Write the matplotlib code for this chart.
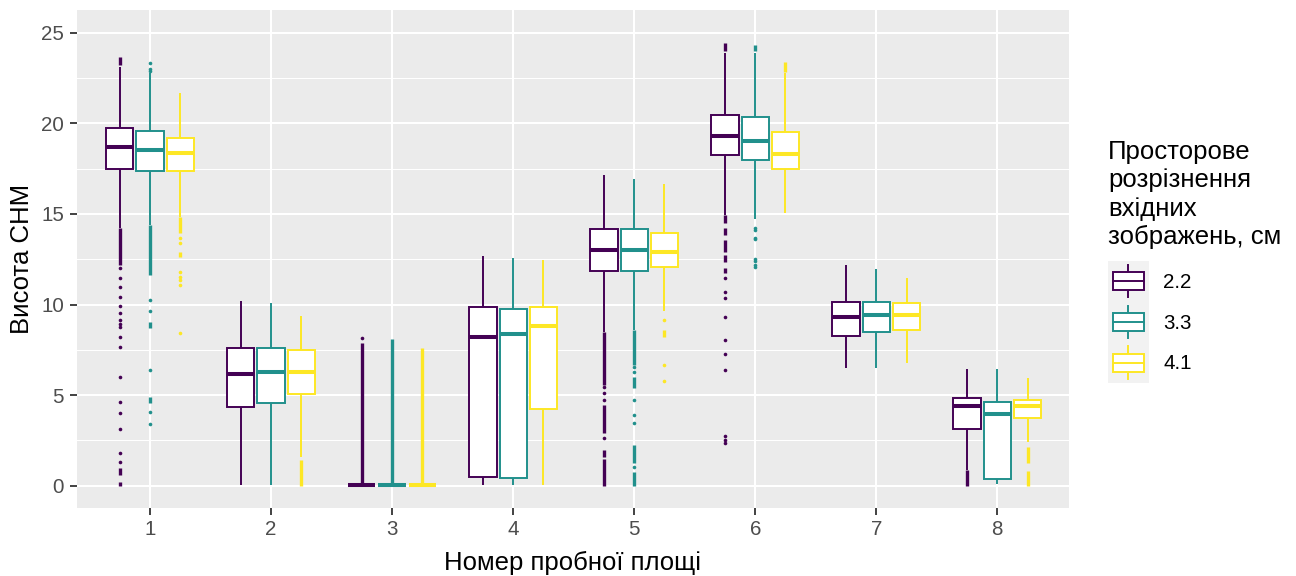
import matplotlib
matplotlib.use('Agg')
import matplotlib.pyplot as plt
import matplotlib.patches as mpatches
from matplotlib.lines import Line2D
from matplotlib.legend_handler import HandlerBase

plt.rcParams['font.family'] = ['Liberation Sans', 'DejaVu Sans']

# ---------------- data ----------------
plots = [1, 2, 3, 4, 5, 6, 7, 8]
resolutions = ['2.2', '3.3', '4.1']
colors = ['#440154', '#21908C', '#FDE725']

# resolution 2.2 cm
q1_22 = [17.48, 4.33, 0.02, 0.50, 11.87, 18.25, 8.28, 3.15]
med_22 = [18.71, 6.16, 0.02, 8.22, 13.00, 19.32, 9.33, 4.42]
q3_22 = [19.76, 7.58, 0.02, 9.88, 14.15, 20.47, 10.15, 4.84]
lo_22 = [14.20, 0.05, 0.02, 0.04, 8.50, 14.94, 6.51, 0.87]
hi_22 = [23.12, 10.19, 0.02, 12.69, 17.15, 23.87, 12.18, 6.44]
pts_22 = [
    [12.0, 11.45, 10.98, 10.43, 9.92, 9.51, 9.14, 8.95, 8.77, 8.22, 7.67,
     5.98, 4.6, 4.0, 3.11, 1.82, 1.32],
    [],
    [8.17],
    [],
    [5.46, 5.1, 4.73, 2.65],
    [11.44, 10.71, 10.34, 9.33, 8.04, 7.25, 6.39, 2.74, 2.55, 2.37],
    [],
    [],
]
runs_22 = [
    [(23.2, 23.64), (12.18, 14.2), (0.59, 0.96), (0.0, 0.22)],
    [],
    [(0.05, 7.89)],
    [],
    [(5.56, 8.5), (2.89, 4.45), (1.6, 1.97), (0.0, 1.46)],
    [(24.0, 24.42), (14.48, 14.94), (13.84, 14.2), (12.91, 13.56),
     (12.36, 12.73), (11.72, 12.0)],
    [],
    [(0.0, 0.85)],
]

# resolution 3.3 cm
q1_33 = [17.37, 4.55, 0.02, 0.41, 11.87, 17.98, 8.50, 0.39]
med_33 = [18.53, 6.26, 0.02, 8.36, 13.00, 19.03, 9.42, 3.94]
q3_33 = [19.58, 7.58, 0.02, 9.75, 14.15, 20.34, 10.15, 4.62]
lo_33 = [14.39, 0.05, 0.02, 0.04, 8.59, 14.71, 6.51, 0.08]
hi_33 = [22.76, 10.07, 0.02, 12.58, 16.92, 23.87, 11.96, 6.44]
pts_33 = [
    [23.31, 23.0, 22.9, 10.25, 9.64, 6.38, 4.08, 3.41],
    [],
    [],
    [],
    [6.57, 6.29, 4.73, 3.90, 3.44, 1.05],
    [14.24, 14.12, 13.68, 13.6, 12.51, 12.42, 12.18, 12.05],
    [],
    [],
]
runs_33 = [
    [(11.63, 14.39), (8.69, 9.05), (4.55, 4.91)],
    [],
    [(0.05, 8.1)],
    [],
    [(6.66, 8.59), (5.38, 6.02), (1.24, 2.25), (0.0, 0.77)],
    [(24.0, 24.33)],
    [],
    [],
]

# resolution 4.1 cm
q1_41 = [17.38, 5.04, 0.02, 4.23, 12.06, 17.48, 8.59, 3.75]
med_41 = [18.34, 6.26, 0.02, 8.83, 12.91, 18.29, 9.42, 4.42]
q3_41 = [19.18, 7.49, 0.02, 9.88, 13.93, 19.54, 10.07, 4.73]
lo_41 = [14.85, 1.57, 0.02, 0.04, 9.66, 15.07, 6.79, 2.43]
hi_41 = [21.66, 9.38, 0.02, 12.46, 16.64, 22.76, 11.48, 5.96]
pts_41 = [
    [13.65, 13.41, 11.81, 11.53, 11.35, 11.08, 8.44],
    [],
    [],
    [],
    [9.14, 6.66, 5.78],
    [],
    [],
    [],
]
runs_41 = [
    [(13.93, 14.85), (12.64, 12.91)],
    [(0.0, 1.42)],
    [(0.05, 7.62)],
    [],
    [(8.22, 8.59)],
    [(22.85, 23.4)],
    [],
    [(1.24, 2.12), (0.0, 0.83)],
]

y_ticks = [0, 5, 10, 15, 20, 25]
y_minor = [2.5, 7.5, 12.5, 17.5, 22.5]
x_title = 'Номер пробної площі'
y_title = 'Висота СНМ'
legend_title = 'Просторове\nрозрізнення\nвхідних\nзображень, см'

series = [
    (q1_22, med_22, q3_22, lo_22, hi_22, pts_22, runs_22),
    (q1_33, med_33, q3_33, lo_33, hi_33, pts_33, runs_33),
    (q1_41, med_41, q3_41, lo_41, hi_41, pts_41, runs_41),
]

# ---------------- figure ----------------
TICK_FS = 14.8
TITLE_FS = 18.5
W, H = 1296, 576
fig = plt.figure(figsize=(W / 100, H / 100), dpi=100)
left, right, top, bottom = 76.7, 1069.3, 10, 507.7
ax = fig.add_axes([left / W, 1 - bottom / H, (right - left) / W, (bottom - top) / H])
ax.set_facecolor('#EBEBEB')

offsets = [-0.25, 0.0, 0.25]
for j, (q1, med, q3, lo, hi, pts, runs) in enumerate(series):
    c = colors[j]
    stats = [dict(q1=q1[i], med=med[i], q3=q3[i], whislo=lo[i], whishi=hi[i],
                  fliers=pts[i]) for i in range(len(plots))]
    pos = [p + offsets[j] for p in plots]
    ax.bxp(stats, positions=pos, widths=0.225, patch_artist=True, showcaps=False,
           boxprops=dict(facecolor='white', edgecolor=c, linewidth=1.4),
           whiskerprops=dict(color=c, linewidth=1.4, solid_capstyle='butt'),
           medianprops=dict(color=c, linewidth=2.9, solid_capstyle='butt'),
           flierprops=dict(marker='o', markersize=2.6, markerfacecolor=c,
                           markeredgecolor='none'),
           manage_ticks=False, zorder=3)
    for i in range(len(plots)):
        for a, b in runs[i]:
            ax.vlines(pos[i], a, b, color=c, lw=2.4, zorder=3)

ax.set_xlim(0.394, 8.595)
ax.set_ylim(-1.21, 26.25)
ax.set_xticks(plots)
ax.set_xticklabels([str(p) for p in plots])
ax.set_yticks(y_ticks)
ax.set_yticks(y_minor, minor=True)
ax.grid(which='major', color='white', linewidth=1.5)
ax.grid(which='minor', axis='y', color='white', linewidth=0.75)
ax.set_axisbelow(True)
for s in ax.spines.values():
    s.set_visible(False)
ax.tick_params(which='major', length=4.8, width=1.3, color='#333333',
               labelcolor='#4D4D4D', labelsize=TICK_FS, pad=4.3)
ax.tick_params(which='minor', length=0)
ax.set_xlabel(x_title, fontsize=TITLE_FS, labelpad=8.5)
ax.set_ylabel(y_title, fontsize=TITLE_FS, labelpad=5)


class BoxKeyHandler(HandlerBase):
    def create_artists(self, legend, orig_handle, xdescent, ydescent, width,
                       height, fontsize, trans):
        c = orig_handle.get_edgecolor()
        extra = legend.labelspacing * fontsize / 2
        x0 = -xdescent
        b0 = -ydescent - extra
        HH = height + 2 * extra
        bg = mpatches.Rectangle((x0, b0), width, HH, facecolor='#F2F2F2',
                                edgecolor='none', transform=trans)
        cx = x0 + width / 2
        wl = Line2D([cx, cx], [b0 + 0.1 * HH, b0 + 0.9 * HH], color=c, lw=1.4,
                    transform=trans)
        bw = 0.76 * width
        box = mpatches.Rectangle((cx - bw / 2, b0 + 0.28 * HH), bw, 0.44 * HH,
                                 facecolor='white', edgecolor=c, lw=1.4,
                                 transform=trans)
        md = Line2D([cx - bw / 2, cx + bw / 2], [b0 + 0.5 * HH] * 2, color=c,
                    lw=1.4, transform=trans)
        return [bg, wl, box, md]


handles = [mpatches.Patch(facecolor='white', edgecolor=c, label=r)
           for r, c in zip(resolutions, colors)]
leg = fig.legend(handles=handles, title=legend_title, loc='upper left',
                 bbox_to_anchor=(1108 / W, 1 - 140 / H), frameon=False,
                 fontsize=TICK_FS, title_fontsize=TITLE_FS,
                 handler_map={mpatches.Patch: BoxKeyHandler()},
                 handlelength=1.98, handleheight=1.8, labelspacing=0.57,
                 handletextpad=0.70, borderpad=0, borderaxespad=0,
                 alignment='left')
leg.get_title().set_linespacing(1.23)
# a little more room between the legend title and the keys
if hasattr(leg, '_legend_box') and hasattr(leg._legend_box, 'sep'):
    leg._legend_box.sep = 12.5

fig.savefig('out.png', dpi=100)
